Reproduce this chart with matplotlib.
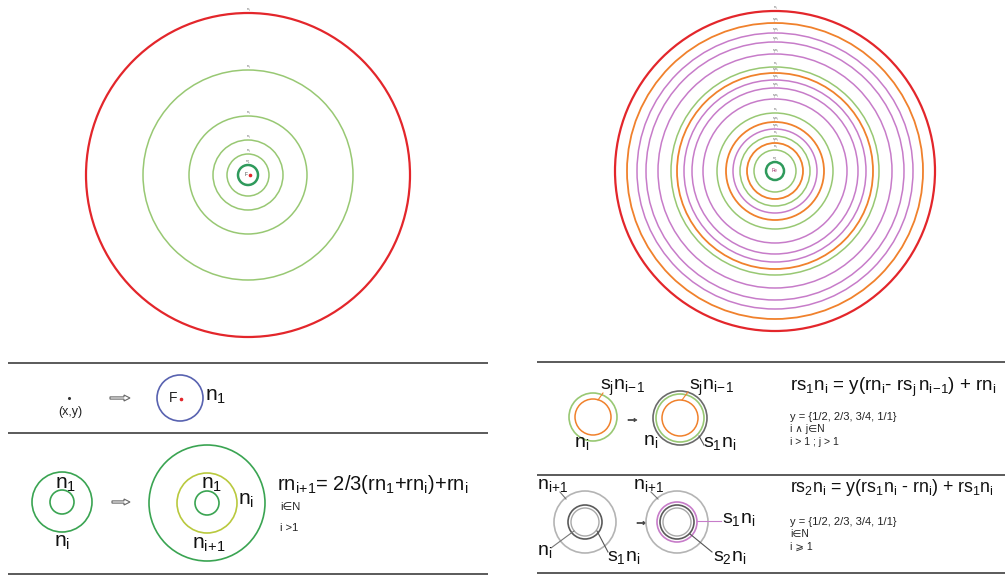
import matplotlib.pyplot as plt
from matplotlib.patches import Circle, FancyArrow

plt.rcParams['font.family'] = ['Liberation Sans', 'DejaVu Sans']
plt.rcParams['mathtext.fontset'] = 'custom'
plt.rcParams['mathtext.rm'] = 'Liberation Sans'
plt.rcParams['mathtext.it'] = 'Liberation Sans'
plt.rcParams['mathtext.default'] = 'regular'

RED = '#e3262b'
ORANGE = '#f0812c'
PURPLE = '#c77cc9'
LGREEN = '#98c873'
DGREEN = '#2f9a5c'
GREEN = '#3aa452'
YGREEN = '#b9c93e'
BLUE = '#5862b0'
DGRAY = '#5a5a5a'
LGRAY = '#b4b4b4'
LINE = '#4d4d4d'

# top-left: first growth rings (pixel radii)
left_center = (248, 175)
left_radii = [10, 21, 35, 59, 105, 162]
left_kinds = ['core', 'n', 'n', 'n', 'n', 'edge']

# top-right: rings with sub-rings
right_center = (775, 171)
right_radii = [9, 21, 28, 35, 42, 49, 58, 72, 83, 91, 98, 104, 117, 129, 138, 148, 160]
right_kinds = ['core', 'n', 's2', 'n', 's1', 's2', 'n', 's1', 's1', 's1', 's2', 'n',
               's1', 's1', 's1', 's2', 'edge']

kind_color = {'core': DGREEN, 'n': LGREEN, 's1': PURPLE, 's2': ORANGE, 'edge': RED}
kind_width = {'core': 1.8, 'n': 1.1, 's1': 1.1, 's2': 1.3, 'edge': 1.6}
kind_label = {'core': r'$n_1$', 'n': r'$n_i$', 's1': r'$s_jn_i$', 's2': r'$s_jn_i$', 'edge': r'$n_i$'}

fig = plt.figure(figsize=(10.05, 5.77), dpi=100)
ax = fig.add_axes([0, 0, 1, 1])
ax.set_xlim(0, 1005)
ax.set_ylim(577, 0)
ax.axis('off')


def ring(c, r, color, lw):
    ax.add_patch(Circle(c, r, fill=False, ec=color, lw=lw))


def rings(center, radii, kinds):
    for r, k in zip(radii, kinds):
        ring(center, r, kind_color[k], kind_width[k])
        ax.text(center[0], center[1] - r - 2.5, kind_label[k], fontsize=2.6,
                color='#555555', ha='center', va='center')


rings(left_center, left_radii, left_kinds)
ax.text(left_center[0] - 2, left_center[1], 'F', fontsize=3.5, color='#444444',
        ha='center', va='center')
ax.plot(left_center[0] + 2, left_center[1], 'o', ms=1.6, color=RED)

rings(right_center, right_radii, right_kinds)
ax.text(right_center[0], right_center[1], 'Fe', fontsize=3.5, color='#a0306a',
        ha='center', va='center')


def hline(y, x0, x1):
    ax.plot([x0, x1], [y, y], color=LINE, lw=1.3, solid_capstyle='butt')


def arrow(x, y, length, hollow=True):
    if hollow:
        ax.add_patch(FancyArrow(x, y, length, 0, width=2.2, head_width=6, head_length=6,
                                length_includes_head=True, fc='white', ec='#666666', lw=0.8))
    else:
        ax.add_patch(FancyArrow(x, y, length, 0, width=1.2, head_width=3.5, head_length=3,
                                length_includes_head=True, fc='#444444', ec='#444444', lw=0.5))


def leader(x0, y0, x1, y1, color='#777777'):
    ax.plot([x0, x1], [y0, y1], color=color, lw=0.8)


# bottom-left panel
for y in [363, 433, 574]:
    hline(y, 8, 488)

ax.plot(69, 398, 'o', ms=1.2, color='#333333')
ax.text(70, 412, '(x,y)', fontsize=9, ha='center', va='center', color='#222222')
arrow(110, 398, 20)
ring((180, 398), 23, BLUE, 1.2)
ax.text(173, 398, 'F', fontsize=10, ha='center', va='center', color='#222222')
ax.plot(181, 399, 'o', ms=1.6, color=RED)
ax.text(205, 397, r'$n_1$', fontsize=15, ha='left', va='center', color='#111111')

ring((62, 502), 30, GREEN, 1.2)
ring((62, 502), 12, GREEN, 1.2)
ax.text(66, 484, r'$n_1$', fontsize=15, ha='center', va='center', color='#111111')
ax.text(62, 542, r'$n_i$', fontsize=15, ha='center', va='center', color='#111111')
arrow(112, 502, 18)
ring((207, 503), 58, GREEN, 1.2)
ring((207, 503), 30, YGREEN, 1.2)
ring((207, 503), 12, GREEN, 1.2)
ax.text(212, 485, r'$n_1$', fontsize=15, ha='center', va='center', color='#111111')
ax.text(246, 500, r'$n_i$', fontsize=15, ha='center', va='center', color='#111111')
ax.text(209, 545, r'$n_{i\!+\!1}$', fontsize=15, ha='center', va='center', color='#111111')
ax.text(277, 484, r'$rn_{i\!+\!1}$= 2/3($rn_1$+$rn_i$)+$rn_i$', fontsize=14.5, ha='left',
        va='center', color='#111111')
ax.text(280, 507, 'i∈N', fontsize=8, ha='left', va='center', color='#222222')
ax.text(280, 528, 'i >1', fontsize=8, ha='left', va='center', color='#222222')

# bottom-right panel
for y in [362, 475, 573]:
    hline(y, 537, 1005)

ring((593, 417), 24, LGREEN, 1.2)
ring((593, 417), 18, ORANGE, 1.1)
leader(598, 400, 603, 393, ORANGE)
ax.text(600, 388, r'$s_jn_{i\!-\!1}$', fontsize=14, ha='left', va='center', color='#111111')
ax.text(582, 444, r'$n_i$', fontsize=14, ha='center', va='center', color='#111111')
arrow(628, 420, 9, hollow=False)
ring((680, 418), 27, '#6a6a6a', 1.2)
ring((680, 418), 24, LGREEN, 1.2)
ring((680, 418), 18, ORANGE, 1.1)
leader(682, 400, 688, 392, ORANGE)
ax.text(689, 388, r'$s_jn_{i\!-\!1}$', fontsize=14, ha='left', va='center', color='#111111')
ax.text(651, 442, r'$n_i$', fontsize=14, ha='center', va='center', color='#111111')
leader(699, 436, 704, 445, '#555555')
ax.text(703, 444, r'$s_1n_i$', fontsize=14, ha='left', va='center', color='#111111')

ax.text(790, 387, r'$rs_1n_i$ = y($rn_i$- $rs_j\,n_{i\!-\!1}$) + $rn_i$', fontsize=13.5,
        ha='left', va='center', color='#111111')
ax.text(790, 417, 'y = {1/2, 2/3, 3/4, 1/1}', fontsize=8, ha='left', va='center',
        color='#222222')
ax.text(790, 429, 'i ∧ j∈N', fontsize=7.5, ha='left', va='center', color='#222222')
ax.text(790, 442, 'i > 1 ; j > 1', fontsize=7.5, ha='left', va='center', color='#222222')

ring((585, 522), 31, LGRAY, 1.2)
ring((585, 522), 17, DGRAY, 1.2)
ring((585, 522), 14, '#a8a8a8', 1.0)
ax.text(537, 485, r'$n_{i\!+\!1}$', fontsize=14, ha='left', va='center', color='#111111')
leader(560, 492, 566, 499)
ax.text(537, 552, r'$n_i$', fontsize=14, ha='left', va='center', color='#111111')
leader(551, 548, 574, 531)
ax.text(607, 557, r'$s_1n_i$', fontsize=14, ha='left', va='center', color='#111111')
leader(597, 531, 608, 552, '#555555')
arrow(637, 523, 9, hollow=False)
ring((677, 522), 31, LGRAY, 1.2)
ring((677, 522), 20, PURPLE, 1.2)
ring((677, 522), 17, DGRAY, 1.2)
ring((677, 522), 14, '#a8a8a8', 1.0)
ax.text(633, 485, r'$n_{i\!+\!1}$', fontsize=14, ha='left', va='center', color='#111111')
leader(651, 492, 658, 499)
ax.text(722, 520, r'$s_1n_i$', fontsize=14, ha='left', va='center', color='#111111')
leader(697, 521, 721, 521, PURPLE)
ax.text(713, 557, r'$s_2n_i$', fontsize=14, ha='left', va='center', color='#111111')
leader(690, 534, 712, 552, '#555555')

ax.text(790, 488, r'$rs_2n_i$ = y($rs_1n_i$ - $rn_i$) + $rs_1n_i$', fontsize=12.8,
        ha='left', va='center', color='#111111')
ax.text(790, 522, 'y = {1/2, 2/3, 3/4, 1/1}', fontsize=8, ha='left', va='center',
        color='#222222')
ax.text(790, 534, 'i∈N', fontsize=7.5, ha='left', va='center', color='#222222')
ax.text(790, 547, 'i ⩾ 1', fontsize=7.5, ha='left', va='center', color='#222222')

fig.savefig('out.png', dpi=100)
